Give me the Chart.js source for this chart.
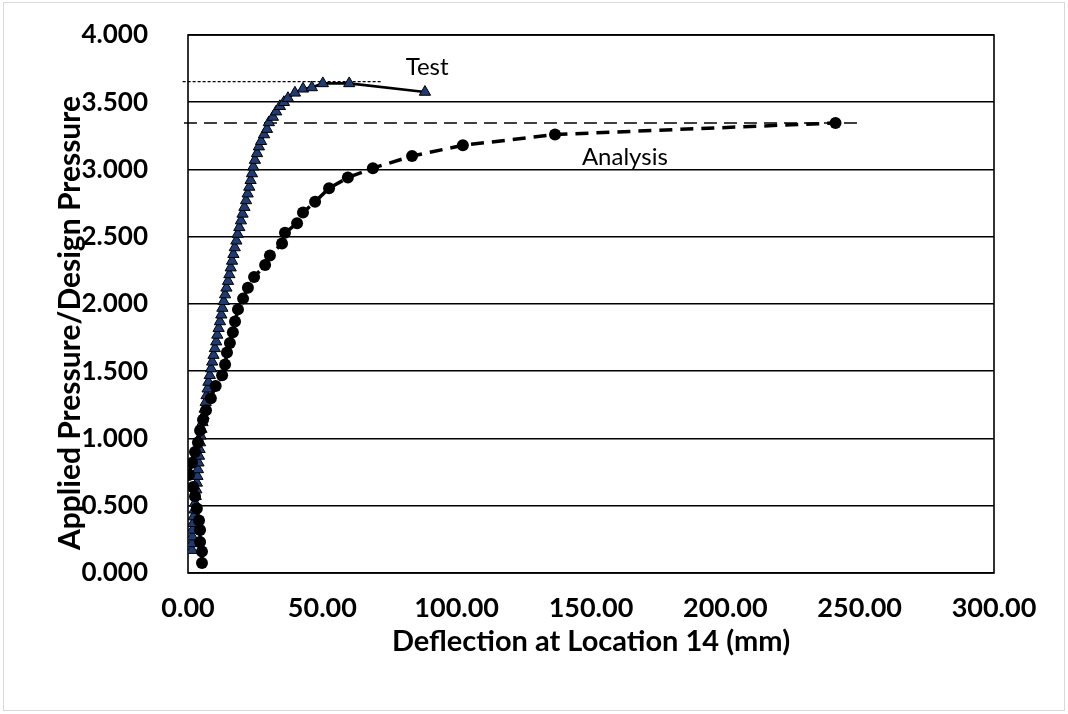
<!DOCTYPE html>
<html><head><meta charset="utf-8">
<script src="https://cdn.jsdelivr.net/npm/chart.js@4.4.1/dist/chart.umd.min.js"></script>
<style>html,body{margin:0;padding:0;background:#fff;} canvas{display:block;}</style>
</head><body>
<canvas id="c" width="1068" height="714"></canvas>
<script>
// ---- Data ----
const testX = [1.5,1.5,1.6,1.7,1.9,2.1,2.4,2.6,2.9,3.1,3.3,3.5,3.7,3.9,4.1,4.3,4.5,4.7,5.0,5.4,5.8,6.2,6.6,6.9,7.3,7.6,8.1,8.6,9.0,9.5,10.0,10.5,10.9,11.4,11.9,12.4,12.8,13.3,13.8,14.3,14.9,15.4,15.9,16.4,16.9,17.4,18.0,18.5,19.1,19.7,20.3,21.0,21.6,22.2,22.8,23.3,23.8,24.3,24.9,25.7,26.4,27.2,28.3,29.4,30.1,31.6,32.8,34.2,35.7,37.2,39.8,42.8,46.1,50.2,60.0,88.2];
const testY = [0.17,0.22,0.27,0.32,0.37,0.42,0.47,0.52,0.57,0.62,0.67,0.72,0.77,0.82,0.87,0.92,0.97,1.02,1.07,1.12,1.17,1.22,1.27,1.32,1.37,1.42,1.47,1.52,1.57,1.62,1.67,1.72,1.77,1.82,1.87,1.92,1.97,2.02,2.07,2.12,2.17,2.22,2.27,2.32,2.37,2.42,2.47,2.52,2.57,2.62,2.67,2.72,2.77,2.82,2.87,2.92,2.97,3.02,3.07,3.12,3.17,3.21,3.26,3.30,3.35,3.39,3.43,3.47,3.50,3.53,3.57,3.60,3.61,3.64,3.64,3.576];

const analysisX = [5.2,5.2,4.5,4.5,4.1,3.3,2.6,1.9,0.4,1.5,2.6,3.7,4.5,5.6,6.7,8.5,10.3,12.7,13.8,14.5,15.6,16.7,17.5,18.6,20.5,22.3,24.6,28.7,30.5,35.0,36.1,40.6,42.8,47.3,52.5,59.5,68.8,83.4,102.3,136.6,241.0];
const analysisY = [0.074,0.16,0.23,0.32,0.39,0.48,0.57,0.64,0.73,0.82,0.90,0.97,1.06,1.14,1.21,1.30,1.39,1.47,1.55,1.64,1.71,1.79,1.87,1.96,2.04,2.12,2.20,2.29,2.36,2.45,2.53,2.60,2.68,2.76,2.86,2.94,3.01,3.10,3.18,3.26,3.346];

// horizontal reference lines (ultimate values)
const testRefX = [-2, 72];
const testRefY = [3.653, 3.653];
const analysisRefX = [-1.5, 249];
const analysisRefY = [3.346, 3.346];

// axis ranges / ticks
const xMin = 0, xMax = 300, xStep = 50;
const yMin = 0, yMax = 4, yStep = 0.5;

// series labels and their anchor (data units)
const seriesLabels = ['Test', 'Analysis'];
const seriesLabelX = [89, 162.6];
const seriesLabelY = [3.76, 3.09];

const xTitle = 'Deflection at Location 14 (mm)';
const yTitle = 'Applied Pressure/Design Pressure';

// ---- Build ----
const zip = (xs, ys) => xs.map((x, i) => ({x, y: ys[i]}));
const FONT = 'Lato, Carlito, Calibri, sans-serif';
Chart.defaults.font.family = FONT;
Chart.defaults.color = '#000';

const framePlugin = {
  id: 'frame',
  beforeDraw(chart) {
    const c = chart.ctx;
    c.save();
    c.fillStyle = '#fff';
    c.fillRect(0, 0, chart.width, chart.height);
    c.strokeStyle = '#d9d9d9';
    c.lineWidth = 1;
    c.strokeRect(3.5, 2.5, chart.width - 7, chart.height - 6);
    c.restore();
  },
  beforeDatasetsDraw(chart) {
    const a = chart.chartArea, c = chart.ctx;
    c.save();
    c.strokeStyle = '#000';
    c.lineWidth = 1.6;
    c.strokeRect(a.left, a.top, a.right - a.left, a.bottom - a.top);
    c.restore();
  },
  afterDatasetsDraw(chart) {
    const c = chart.ctx, xs = chart.scales.x, ys = chart.scales.y;
    c.save();
    c.fillStyle = '#000';
    c.font = '24px ' + FONT;
    c.textAlign = 'center';
    c.textBaseline = 'middle';
    seriesLabels.forEach((t, i) => {
      c.fillText(t, xs.getPixelForValue(seriesLabelX[i]), ys.getPixelForValue(seriesLabelY[i]));
    });
    // vertical axis title
    c.font = 'bold 30px ' + FONT;
    c.translate(70, 323);
    c.rotate(-Math.PI / 2);
    c.fillText(yTitle, 0, 0);
    c.restore();
  }
};

new Chart(document.getElementById('c'), {
  type: 'scatter',
  data: {
    datasets: [
      {
        label: 'Analysis',
        data: zip(analysisX, analysisY),
        showLine: true,
        borderColor: '#000',
        borderWidth: 3.5,
        borderDash: [13, 8],
        pointStyle: 'circle',
        pointRadius: 6,
        pointBackgroundColor: '#000',
        pointBorderColor: '#000',
        pointBorderWidth: 0,
        tension: 0
      },
      {
        label: 'Test',
        data: zip(testX, testY),
        showLine: true,
        borderColor: '#000',
        borderWidth: 2.6,
        pointStyle: 'triangle',
        pointRadius: 6.5,
        pointBackgroundColor: '#1F3B73',
        pointBorderColor: '#000',
        pointBorderWidth: 1,
        tension: 0
      },
      {
        label: 'Analysis ultimate',
        data: zip(analysisRefX, analysisRefY),
        showLine: true,
        borderColor: '#000',
        borderWidth: 1.5,
        borderDash: [13, 7],
        pointRadius: 0,
        clip: false
      },
      {
        label: 'Test ultimate',
        data: zip(testRefX, testRefY),
        showLine: true,
        borderColor: '#000',
        borderWidth: 1.2,
        borderDash: [3, 2],
        pointRadius: 0,
        clip: false
      }
    ]
  },
  options: {
    responsive: false,
    animation: false,
    events: [],
    layout: { padding: { left: 0, right: 74, top: 35, bottom: 0 } },
    plugins: { legend: { display: false }, tooltip: { enabled: false } },
    scales: {
      x: {
        type: 'linear', min: xMin, max: xMax,
        afterFit(s) { s.height = 141; s.paddingLeft = 0; s.paddingRight = 0; },
        ticks: {
          stepSize: xStep,
          padding: 19,
          font: { size: 27, weight: 'bold', family: FONT },
          color: '#000',
          callback: v => Number(v).toFixed(2)
        },
        grid: { display: false, drawTicks: false },
        border: { display: false },
        title: {
          display: true, text: xTitle,
          font: { size: 29, weight: 'bold', family: FONT },
          color: '#000',
          padding: { top: 0, bottom: 55 }
        }
      },
      y: {
        type: 'linear', min: yMin, max: yMax,
        afterFit(s) { s.width = 188; s.paddingTop = 0; s.paddingBottom = 0; },
        ticks: {
          stepSize: yStep,
          padding: 40,
          font: { size: 26, weight: 'bold', family: FONT },
          color: '#000',
          callback: v => Number(v).toFixed(3)
        },
        grid: { color: '#000', lineWidth: 1.6, drawTicks: false },
        border: { display: false },
        title: { display: false }
      }
    }
  },
  plugins: [framePlugin]
});
</script>
</body></html>
